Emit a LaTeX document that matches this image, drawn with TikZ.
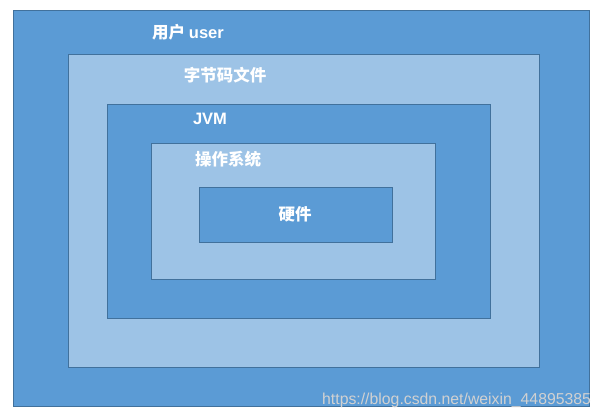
\documentclass[tikz,border=0pt]{standalone}
\usepackage{fontspec}
\newfontfamily\cjk{Noto Sans CJK SC}
\setsansfont{Liberation Sans}
\definecolor{boxdark}{HTML}{5B9BD5}
\definecolor{boxlight}{HTML}{9DC3E6}
\definecolor{boxline}{HTML}{41719C}
\begin{document}
\begin{tikzpicture}[x=1pt,y=-1pt,%
        every node/.style={inner sep=0pt,outer sep=0pt},
        layer/.style={draw=boxline,line width=1pt,anchor=north west},
        dark/.style={layer,fill=boxdark}, light/.style={layer,fill=boxlight},
        lbl/.style={text=white,font=\cjk\bfseries\fontsize{16.5}{16.5}\selectfont}]%
        \useasboundingbox (0,0) rectangle (603,420);
        \node[dark,minimum width=576pt,minimum height=395pt] (user) at (13,11) {};
        \node[light,minimum width=471pt,minimum height=312pt] (code) at (68,55) {};
        \node[dark,minimum width=383pt,minimum height=213pt] (jvm) at (107,105) {};
        \node[light,minimum width=284pt,minimum height=136pt] (os) at (151,143) {};
        \node[dark,minimum width=193pt,minimum height=55pt] (hw) at (199,187) {};
        \node[lbl] (luser) at (188,32) {用户 {\sffamily\bfseries user}}; \node[lbl] (lcode)
        at (225,75) {字节码文件}; \node[lbl] (ljvm) at (210,119) {\sffamily\bfseries JVM};
        \node[lbl] (los) at (228,159) {操作系统}; \node[lbl] (lhw) at (295,214) {硬件};
        \node[font=\sffamily\fontsize{15.8}{15.8}\selectfont,text=white!82!black,anchor=east]
        (mark) at (591,400) {https://blog.csdn.net/weixin\_44895385};
      \end{tikzpicture}
\end{document}
